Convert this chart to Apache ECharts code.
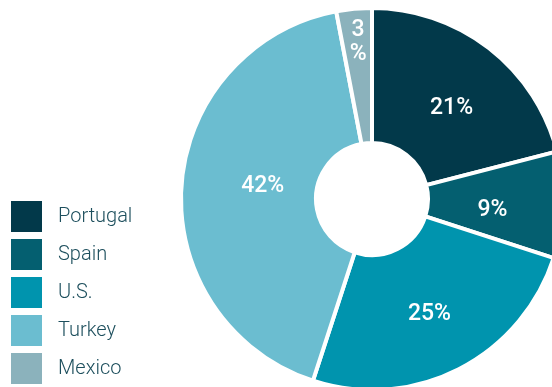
<!DOCTYPE html>
<html>
<head>
<meta charset="utf-8">
<script src="https://cdn.jsdelivr.net/npm/echarts@6/dist/echarts.min.js"></script>
<style>
  html, body { margin: 0; padding: 0; background: #ffffff; }
  #chart { width: 552px; height: 387px; }
</style>
</head>
<body>
<div id="chart"></div>
<script>
// Share of total by country (percent)
const countries = ['Portugal', 'Spain', 'U.S.', 'Turkey', 'Mexico'];
const shares = [21, 9, 25, 42, 3];
const colors = ['#02394a', '#045f70', '#0094ae', '#6bbdd0', '#8bb2bc'];
// per-slice label nudges in px: [right, down]
const labelShift = [[2, 9.5], [-6, 7.5], [0, 2.5], [17, -4.5], [-2, -30.5]];

const chart = echarts.init(document.getElementById('chart'), null, { renderer: 'canvas' });

const valueStyle = {
  color: '#ffffff',
  fontFamily: 'Roboto',
  fontSize: 23,
  fontWeight: 500,
  lineHeight: 24
};

const pieData = countries.map((name, i) => {
  const dx = labelShift[i][0];
  const dy = labelShift[i][1];
  // narrow slice: stack the number above the percent sign
  const text = name === 'Mexico' ? '{v|{c}}\n{v|%}' : '{v|{c}%}';
  // an empty spacer line above or below the value moves the centred block
  const gap = Math.abs(dy) * 2;
  const formatter = dy >= 0 ? '{g| }\n' + text : text + '\n{g| }';
  return {
    name: name,
    value: shares[i],
    itemStyle: { color: colors[i] },
    label: {
      formatter: formatter,
      padding: [0, dx < 0 ? -dx * 2 : 0, 0, dx > 0 ? dx * 2 : 0],
      rich: {
        v: valueStyle,
        g: { height: gap, lineHeight: gap, fontSize: 1 }
      }
    }
  };
});

chart.setOption({
  animation: false,
  legend: {
    orient: 'vertical',
    left: 11,
    top: 201,
    padding: 0,
    itemWidth: 31,
    itemHeight: 31,
    itemGap: 7,
    icon: 'rect',
    itemStyle: { borderWidth: 0 },
    textStyle: {
      fontFamily: 'Roboto',
      fontSize: 20,
      fontWeight: 300,
      color: '#1d4f5d',
      padding: [0, 0, 0, 11]
    },
    data: countries
  },
  series: [{
    type: 'pie',
    center: [372, 199],
    radius: [56, 191],
    startAngle: 90,
    clockwise: true,
    avoidLabelOverlap: false,
    itemStyle: { borderColor: '#ffffff', borderWidth: 4 },
    label: {
      show: true,
      position: 'inside',
      color: '#ffffff',
      fontFamily: 'Roboto',
      fontSize: 23,
      fontWeight: 500
    },
    labelLine: { show: false },
    emphasis: { disabled: true },
    data: pieData
  }]
});
</script>
</body>
</html>
